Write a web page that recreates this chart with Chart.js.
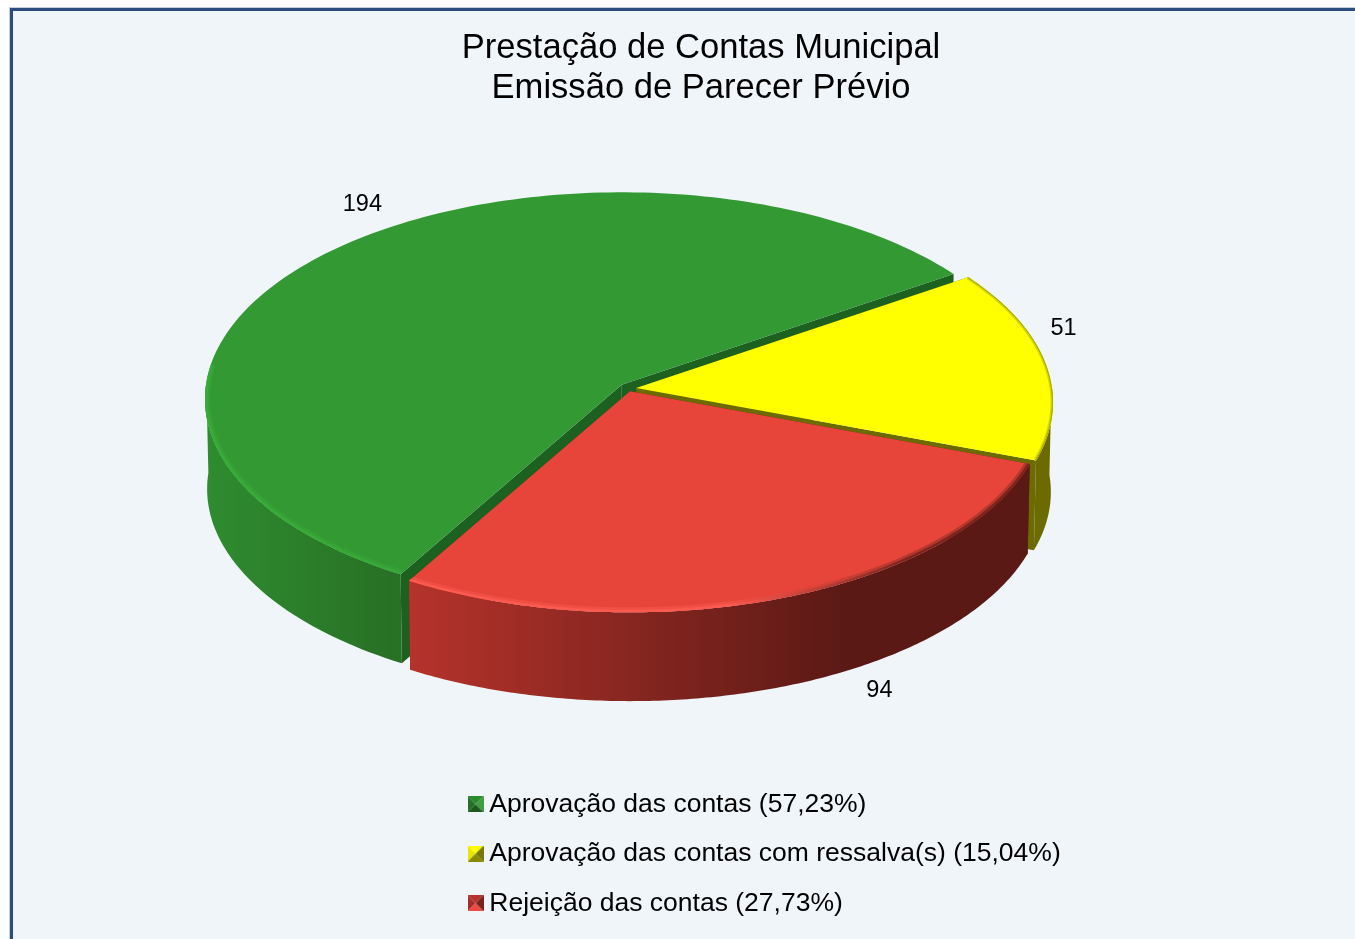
<!DOCTYPE html>
<html lang="pt">
<head>
<meta charset="utf-8">
<title>Prestação de Contas Municipal</title>
<script src="https://cdn.jsdelivr.net/npm/chart.js@4/dist/chart.umd.min.js"></script>
<style>
  html, body { margin: 0; height: 100%; background: #fff; overflow: hidden; }
  #frame {
    position: absolute; left: 10px; top: 8px; width: 1382px; height: 960px;
    box-sizing: border-box; background: #f0f5fa;
    border: 3px solid #2b4c7c;
    box-shadow: 0 0 0 1px #c3cfdd;
  }
  canvas { display: block; }
</style>
</head>
<body>
<div id="frame"><canvas id="pie" width="1376" height="935"></canvas></div>
<script>
const titleLines = ["Prestação de Contas Municipal", "Emissão de Parecer Prévio"];
const categories = [
  "Aprovação das contas (57,23%)",
  "Aprovação das contas com ressalva(s) (15,04%)",
  "Rejeição das contas (27,73%)",
];
const counts = [194, 51, 94];

const topColors = ["#339933", "#ffff00", "#e8453a"];
const edgeColors = ["#1c611f", "#6b6b00", "#6b2018"];
const explode = [9, 8, 5];
// wall gradient: [colour at the left, colour at the right]
const wallColors = [["#2f8c30", "#277024"], ["#6b6b00", "#6b6b00"], ["#b5332b", "#5a1915"]];
const rimColors = [["#38ac38", "#36a636"], ["#a8a800", "#a8a800"], ["#fb5a50", "#7a241c"]];
// top, left, right, bottom of the small legend squares
const markerColors = [
  ["#2c8a2e", "#256f27", "#3f9f3f", "#1c5a1e"],
  ["#ffff00", "#e6e600", "#77770a", "#8a8a00"],
  ["#b5352e", "#a52c27", "#7c211b", "#ea4a40"],
];

/* =========================
   MARCADORES DA LEGENDA
=========================*/
function makeMarker(cols) {
  const c = document.createElement("canvas");
  c.width = 16;
  c.height = 16;
  const g = c.getContext("2d");
  const tri = [
    [[0, 0], [16, 0], [8, 8]],
    [[0, 0], [0, 16], [8, 8]],
    [[16, 0], [16, 16], [8, 8]],
    [[0, 16], [16, 16], [8, 8]],
  ];
  tri.forEach((t, i) => {
    g.fillStyle = cols[i];
    g.beginPath();
    g.moveTo(t[0][0], t[0][1]);
    g.lineTo(t[1][0], t[1][1]);
    g.lineTo(t[2][0], t[2][1]);
    g.closePath();
    g.fill();
  });
  return c;
}
const markers = markerColors.map(makeMarker);

/* =========================
   PIZZA 3D (perspectiva)
=========================*/
const persp = -0.069;
const depth = 90;
const bottomScale = 0.995;
const labelOffsets = [[31, -46], [18, -35], [98, 92]];
// how far round the back the rim light goes, per slice (sin of the angle)
const rimLimit = [-0.12, -1, -0.02];

// maps an angle on the pie to the tilted picture, scale k from the apex
function project(area, angle, k) {
  const rx = (area.right - area.left) / 2;
  const ry = (area.bottom - area.top) / 2;
  const cx = area.left + rx;
  const y0 = area.top + ry * (1 + persp);
  const u = Math.cos(angle) * k;
  const v = Math.sin(angle) * k;
  const w = 1 + persp * v;
  return {
    x: cx + (rx * Math.sqrt(1 - persp * persp) * u) / w,
    y: y0 + (ry * (1 - persp * persp) * v) / w,
  };
}

function drawSlice(ctx, area, arc, i) {
  const start = arc.startAngle;
  const end = arc.endAngle;
  const mid = (start + end) / 2;
  const off = arc.options.offset;
  const dx = Math.cos(mid) * off;
  const dy = Math.sin(mid) * off * 0.6;
  const steps = 160;

  const rim = [];
  const low = [];
  for (let s = 0; s <= steps; s++) {
    const a = start + ((end - start) * s) / steps;
    const p = project(area, a, 1);
    const q = project(area, a, bottomScale);
    rim.push({ x: p.x + dx, y: p.y + dy, a });
    low.push({ x: q.x + dx, y: q.y + dy + depth, a });
  }
  const apex = project(area, 0, 0);
  apex.x += dx;
  apex.y += dy;

  const poly = (pts, fill) => {
    ctx.beginPath();
    pts.forEach((p, n) => (n ? ctx.lineTo(p.x, p.y) : ctx.moveTo(p.x, p.y)));
    ctx.closePath();
    ctx.fillStyle = fill;
    ctx.fill();
  };

  // paredes dos cortes
  const apexLow = { x: apex.x, y: apex.y + depth };
  poly([apex, rim[0], low[0], apexLow], edgeColors[i]);
  poly([apex, rim[steps], low[steps], apexLow], edgeColors[i]);

  // parede externa, so a parte da frente
  const front = (p) => Math.sin(p.a) > -0.02;
  const fr = rim.filter(front);
  const fl = low.filter(front);
  const minX = Math.min(...fr.map((p) => p.x));
  const maxX = Math.max(...fr.map((p) => p.x));
  if (fr.length > 1) {
    const grad = ctx.createLinearGradient(minX, 0, i === 2 ? minX + 440 : maxX, 0);
    grad.addColorStop(0, wallColors[i][0]);
    grad.addColorStop(1, wallColors[i][1]);
    poly(fr.concat(fl.slice().reverse()), grad);
  }

  // face de cima
  poly([apex].concat(rim), arc.options.backgroundColor);

  // brilho na borda
  const lit = rim.filter((p) => Math.sin(p.a) > rimLimit[i]);
  if (lit.length > 1) {
    ctx.save();
    ctx.beginPath();
    ctx.moveTo(apex.x, apex.y);
    rim.forEach((p) => ctx.lineTo(p.x, p.y));
    ctx.closePath();
    ctx.clip();
    const grad = ctx.createLinearGradient(i === 2 ? minX + 320 : minX, 0, i === 2 ? minX + 500 : minX + 300, 0);
    grad.addColorStop(0, rimColors[i][0]);
    grad.addColorStop(1, rimColors[i][1]);
    ctx.strokeStyle = grad;
    ctx.lineJoin = "round";
    const widths = i === 1 ? [5, 2] : [10, 5];
    const alphas = [0.45, 1];
    widths.forEach((w, n) => {
      ctx.lineWidth = w;
      ctx.globalAlpha = alphas[n];
      ctx.beginPath();
      lit.forEach((p, k) => (k ? ctx.lineTo(p.x, p.y) : ctx.moveTo(p.x, p.y)));
      ctx.stroke();
    });
    ctx.restore();
  }
}

const pie3d = {
  id: "pie3d",
  afterLayout(chart) {
    // titulo centrado no quadro inteiro
    chart.titleBlock.left = 0;
    chart.titleBlock.right = chart.width;
    // coluna da legenda, alinhada a esquerda
    const lg = chart.legend;
    const w = lg.right - lg.left;
    lg.left = 462 - chart.options.plugins.legend.labels.padding;
    lg.right = lg.left + w;
    lg.top = 757;
    lg.bottom = lg.top + lg.height;
  },
  beforeDatasetsDraw(chart) {
    const ctx = chart.ctx;
    const area = chart.chartArea;
    const arcs = chart.getDatasetMeta(0).data;
    arcs.forEach((arc, i) => drawSlice(ctx, area, arc, i));

    ctx.fillStyle = "#000";
    ctx.font = "23.5px 'Liberation Sans', Arial, sans-serif";
    ctx.textAlign = "center";
    ctx.textBaseline = "middle";
    arcs.forEach((arc, i) => {
      const mid = (arc.startAngle + arc.endAngle) / 2;
      const p = project(area, mid, 1);
      ctx.fillText(
        String(counts[i]),
        p.x + Math.cos(mid) * arc.options.offset + labelOffsets[i][0],
        p.y + Math.sin(mid) * arc.options.offset * 0.6 + labelOffsets[i][1],
      );
    });
    return false;
  },
};

new Chart(document.getElementById("pie"), {
  type: "pie",
  data: {
    labels: categories,
    datasets: [
      {
        data: counts,
        backgroundColor: topColors,
        borderWidth: 0,
        offset: explode,
      },
    ],
  },
  options: {
    responsive: false,
    animation: false,
    rotation: 210,
    layout: { padding: { left: 198.6, right: 344, top: 0, bottom: 178 } },
    plugins: {
      tooltip: { enabled: false },
      title: {
        display: true,
        text: titleLines,
        color: "#000",
        font: { family: "'Liberation Sans', Arial, sans-serif", size: 34.6, weight: "normal", lineHeight: 1.156 },
        padding: { top: 17, bottom: 88 },
      },
      legend: {
        position: "bottom",
        align: "start",
        maxWidth: 700,
        labels: {
          color: "#000",
          font: { family: "'Liberation Sans', Arial, sans-serif", size: 26.5 },
          usePointStyle: true,
          boxWidth: 1,
          padding: 23,
          generateLabels: (chart) =>
            chart.data.labels.map((text, i) => ({
              text,
              pointStyle: markers[i],
              fontColor: "#000",
              lineWidth: 0,
              index: i,
            })),
        },
      },
    },
  },
  plugins: [pie3d],
});
</script>
</body>
</html>
